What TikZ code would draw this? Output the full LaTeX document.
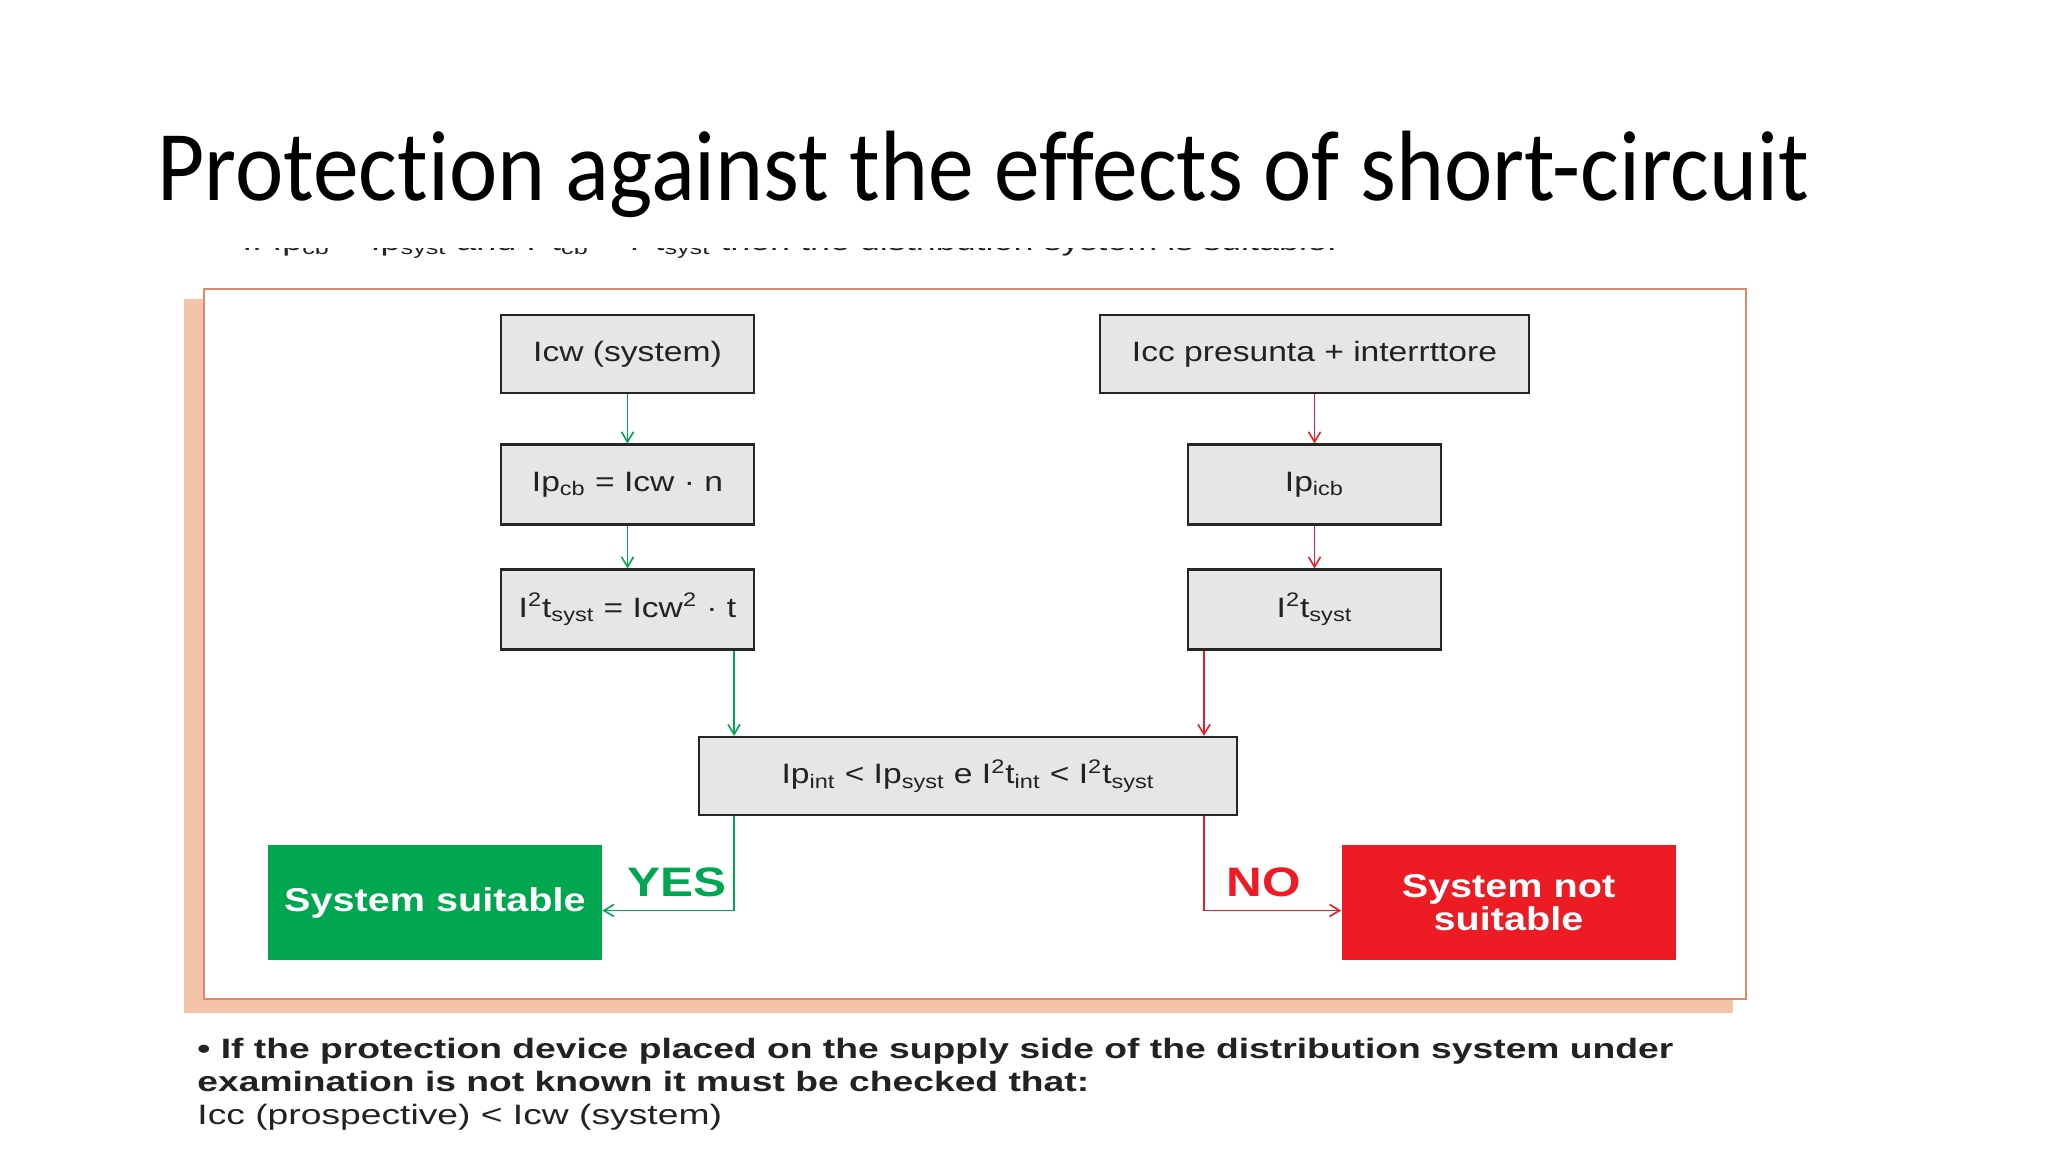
\documentclass[tikz,border=0pt]{standalone}
\usepackage{fontspec}
\setmainfont{Liberation Sans}
\newfontfamily\titlefont[FakeStretch=0.915, Ligatures=NoCommon]{Carlito}
\newfontfamily\bookfont[FakeStretch=1.2]{Liberation Sans}
\newfontfamily\notefont[FakeStretch=1.33]{Liberation Sans}
\usetikzlibrary{arrows.meta}

\definecolor{frameline}{HTML}{E0866A}
\definecolor{frameshade}{HTML}{F4C4AA}
\definecolor{boxfill}{HTML}{E6E6E6}
\definecolor{okgreen}{HTML}{00A650}
\definecolor{nored}{HTML}{ED1C24}
\definecolor{inkgray}{HTML}{222222}

\tikzset{
  flowbox/.style={draw=black!85, line width=1.1pt, fill=boxfill, minimum width=126.5pt,
    minimum height=40pt, inner sep=0pt, text=inkgray,
    font=\bookfont\fontsize{14}{16}\selectfont},
  resultbox/.style={minimum width=167pt, minimum height=57.5pt, inner sep=0pt,
    text=white, align=center, font=\bookfont\bfseries\fontsize{16.5}{16.5}\selectfont},
  yesline/.style={draw=okgreen, line width=0.8pt, -{Straight Barb[length=5pt,width=6pt]}},
  noline/.style={draw=nored, line width=0.8pt, -{Straight Barb[length=5pt,width=6pt]}},
  answer/.style={font=\bookfont\bfseries\fontsize{20.6}{20.6}\selectfont}
}

\begin{document}
\begin{tikzpicture}[x=0.5pt, y=-0.5pt]
  \useasboundingbox (0,0) rectangle (2048,1152);

  % Title
  \node[anchor=base west, inner sep=0pt, font=\titlefont\fontsize{50}{50}\selectfont] (title)
    at (157,200) {Protection against the effects of short-circuit};

  % Cut-off line under the title
  \begin{scope}
    \clip (230,248) rectangle (1400,262);
    \node[anchor=base west, inner sep=0pt, text=inkgray, font=\notefont\fontsize{13.5}{15}\selectfont] (cutline)
      at (242,250) {If Ip\textsubscript{cb} < Ip\textsubscript{syst} and I\textsuperscript{2}t\textsubscript{cb} < I\textsuperscript{2}t\textsubscript{syst} then the distribution system is suitable.};
  \end{scope}

  % Frame
  \fill[frameshade] (184,299) rectangle (1733,1013);
  \draw[frameline, line width=1.2pt, fill=white] (204,289) rectangle (1746,999);

  % Boxes
  \node[flowbox, minimum height=39pt] (icw) at (627.5,354) {Icw (system)};
  \node[flowbox, minimum width=214.5pt, minimum height=39pt] (icc) at (1314.5,354) {Icc presunta + interrttore};
  \node[flowbox] (ipcb) at (627.5,484.5) {Ip\textsubscript{cb} = Icw · n};
  \node[flowbox] (ipicb) at (1314.5,484.5) {Ip\textsubscript{icb}};
  \node[flowbox] (itl) at (627.5,609.5) {I\textsuperscript{2}t\textsubscript{syst} = Icw\textsuperscript{2} · t};
  \node[flowbox] (itr) at (1314.5,609.5) {I\textsuperscript{2}t\textsubscript{syst}};
  \node[flowbox, minimum width=269pt, minimum height=39pt] (check) at (968,776)
    {Ip\textsubscript{int} < Ip\textsubscript{syst} e I\textsuperscript{2}t\textsubscript{int} < I\textsuperscript{2}t\textsubscript{syst}};
  \node[resultbox, fill=okgreen] (ok) at (435,902.5) {System suitable};
  \node[resultbox, fill=nored] (notok) at (1508.5,902.5) {System not\\suitable};

  % Connectors
  \coordinate (gx) at (734,0);
  \coordinate (rx) at (1204,0);
  \draw[yesline] (icw) -- (ipcb);
  \draw[yesline] (ipcb) -- (itl);
  \draw[yesline] (itl.south -| gx) -- (check.north -| gx);
  \draw[noline] (icc) -- (ipicb);
  \draw[noline] (ipicb) -- (itr);
  \draw[noline] (itr.south -| rx) -- (check.north -| rx);
  \draw[yesline] (check.south -| gx) |- ([yshift=-4pt]ok.east);
  \draw[noline] (check.south -| rx) |- ([yshift=-4pt]notok.west);
  \node[answer, text=okgreen] (yes) at (677,882) {YES};
  \node[answer, text=nored] (no) at (1264,882) {NO};

  % Note below
  \node[anchor=base west, inner sep=0pt, align=left, text=inkgray,
    font=\notefont\fontsize{14}{16.5}\selectfont] (note) at (197,1124)
    {\textbf{• If the protection device placed on the supply side of the distribution system under}\\
     \textbf{examination is not known it must be checked that:}\\
     Icc (prospective) < Icw (system)};
\end{tikzpicture}
\end{document}
